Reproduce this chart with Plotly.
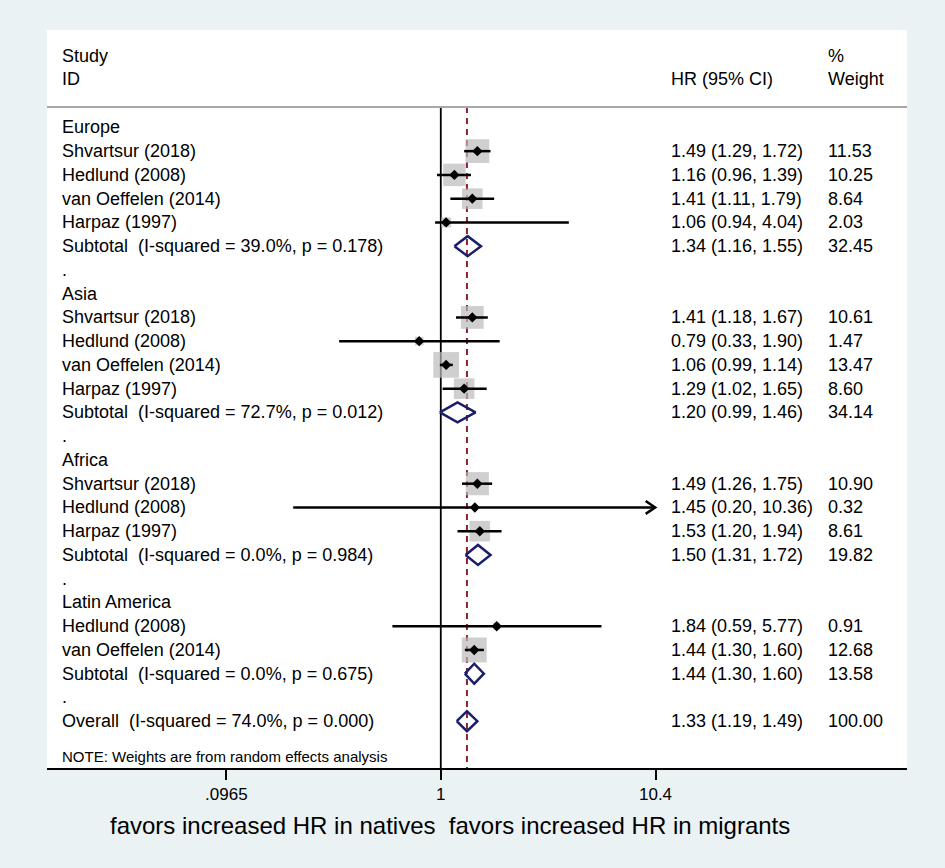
import numpy as np
import plotly.graph_objects as go

# forest plot: HR of migrants vs natives by region of origin

regions = ["Europe", "Asia", "Africa", "Latin America"]

study = [
    ["Shvartsur (2018)", "Hedlund (2008)", "van Oeffelen (2014)", "Harpaz (1997)"],
    ["Shvartsur (2018)", "Hedlund (2008)", "van Oeffelen (2014)", "Harpaz (1997)"],
    ["Shvartsur (2018)", "Hedlund (2008)", "Harpaz (1997)"],
    ["Hedlund (2008)", "van Oeffelen (2014)"],
]
hr = [[1.49, 1.16, 1.41, 1.06], [1.41, 0.79, 1.06, 1.29], [1.49, 1.45, 1.53], [1.84, 1.44]]
lo = [[1.29, 0.96, 1.11, 0.94], [1.18, 0.33, 0.99, 1.02], [1.26, 0.20, 1.20], [0.59, 1.30]]
hi = [[1.72, 1.39, 1.79, 4.04], [1.67, 1.90, 1.14, 1.65], [1.75, 10.36, 1.94], [5.77, 1.60]]
wt = [[11.53, 10.25, 8.64, 2.03], [10.61, 1.47, 13.47, 8.60], [10.90, 0.32, 8.61], [0.91, 12.68]]

sub_i2 = ["39.0%", "72.7%", "0.0%", "0.0%"]
sub_p = ["0.178", "0.012", "0.984", "0.675"]
sub_hr = [1.34, 1.20, 1.50, 1.44]
sub_lo = [1.16, 0.99, 1.31, 1.30]
sub_hi = [1.55, 1.46, 1.72, 1.60]
sub_wt = [32.45, 34.14, 19.82, 13.58]

overall = {"i2": "74.0%", "p": "0.000", "hr": 1.33, "lo": 1.19, "hi": 1.49, "wt": 100.00}

tick_vals = [0.0965, 1, 10.4]
tick_text = [".0965", "1", "10.4"]

FONT = "Liberation Sans, Arial, sans-serif"
NAVY = "#1b1f6b"
BG = "#eaf2f4"

# build rows
rows = []  # (label, kind, hr, lo, hi, wt)
for g, reg in enumerate(regions):
    rows.append((reg, "head", None, None, None, None))
    for i in range(len(study[g])):
        rows.append((study[g][i], "study", hr[g][i], lo[g][i], hi[g][i], wt[g][i]))
    lab = "Subtotal  (I-squared = %s, p = %s)" % (sub_i2[g], sub_p[g])
    rows.append((lab, "sub", sub_hr[g], sub_lo[g], sub_hi[g], sub_wt[g]))
    rows.append((".", "blank", None, None, None, None))
rows.append(("Overall  (I-squared = %s, p = %s)" % (overall["i2"], overall["p"]),
             "sub", overall["hr"], overall["lo"], overall["hi"], overall["wt"]))

fig = go.Figure()

st = [(r, row) for r, row in enumerate(rows) if row[1] == "study"]
sb = [(r, row) for r, row in enumerate(rows) if row[1] == "sub"]

# weight boxes
fig.add_trace(go.Scatter(
    x=[row[2] for r, row in st], y=[r for r, row in st], mode="markers",
    marker=dict(symbol="square", color="#bababa", size=[7.0 * np.sqrt(row[5]) for r, row in st],
                line=dict(width=0)),
    hoverinfo="skip", showlegend=False))

# CI lines
cx, cy = [], []
for r, row in st:
    cx += [row[3], row[4], None]
    cy += [r, r, None]
fig.add_trace(go.Scatter(x=cx, y=cy, mode="lines", line=dict(color="black", width=2.5),
                         hoverinfo="skip", showlegend=False))

# arrow for CI reaching the axis edge
for r, row in st:
    if row[4] >= 10:
        f = 10 ** -0.045
        fig.add_trace(go.Scatter(x=[row[4] * f, row[4], row[4] * f], y=[r - 0.27, r, r + 0.27],
                                 mode="lines", line=dict(color="black", width=2.5),
                                 hoverinfo="skip", showlegend=False))

# point estimates
fig.add_trace(go.Scatter(
    x=[row[2] for r, row in st], y=[r for r, row in st], mode="markers",
    marker=dict(symbol="diamond", color="black", size=8),
    hoverinfo="skip", showlegend=False))

# pooled diamonds
dx, dy = [], []
for r, row in sb:
    dx += [row[3], row[2], row[4], row[2], row[3], None]
    dy += [r, r - 0.42, r, r + 0.42, r, None]
fig.add_trace(go.Scatter(x=dx, y=dy, mode="lines", line=dict(color=NAVY, width=2.5),
                         hoverinfo="skip", showlegend=False))

y_head = -0.86
y_bot = 26.97
y_top = -4.1

# null line and overall line
fig.add_shape(type="line", x0=1, x1=1, y0=y_head, y1=y_bot, xref="x", yref="y",
              line=dict(color="black", width=1.8), layer="below")
fig.add_shape(type="line", x0=overall["hr"], x1=overall["hr"], y0=y_head, y1=y_bot,
              xref="x", yref="y", line=dict(color="#8b2430", width=2, dash="6px,5px"),
              layer="below")
# header separator
fig.add_shape(type="line", x0=0, x1=1, y0=y_head, y1=y_head, xref="paper", yref="y",
              line=dict(color="#a8a8a8", width=2))

# text columns
xs, xh, xw = 0.0151, 0.7233, 0.9058
anns = []


def txt(x, y, s, size=18):
    anns.append(dict(x=x, y=y, xref="paper", yref="y", text=s, showarrow=False,
                     xanchor="left", yanchor="middle", font=dict(family=FONT, size=size, color="black")))


txt(xs, -3.0, "Study")
txt(xs, -2.03, "ID")
txt(xh, -2.03, "HR (95% CI)")
txt(xw, -3.0, "%")
txt(xw, -2.03, "Weight")

for r, row in enumerate(rows):
    txt(xs, r, row[0])
    if row[2] is not None:
        txt(xh, r, "%.2f (%.2f, %.2f)" % (row[2], row[3], row[4]))
        txt(xw, r, "%.2f" % row[5])

txt(xs, 26.5, "NOTE: Weights are from random effects analysis", size=15)

anns.append(dict(x=0.4686, y=-0.078, xref="paper", yref="paper",
                 text="favors increased HR in natives  favors increased HR in migrants",
                 showarrow=False, xanchor="center", yanchor="middle",
                 font=dict(family=FONT, size=24, color="black")))

fig.update_layout(
    width=945, height=868,
    margin=dict(l=47, r=38, t=30, b=100),
    paper_bgcolor=BG, plot_bgcolor="white",
    annotations=anns,
    font=dict(family=FONT, color="black"),
    xaxis=dict(type="log", range=[-1.865, 2.208], tickvals=tick_vals, ticktext=tick_text,
               showgrid=False, zeroline=False, showline=True, linecolor="black", linewidth=2,
               ticks="outside", ticklen=10, tickwidth=1.5, tickcolor="black",
               tickfont=dict(family=FONT, size=17, color="black")),
    yaxis=dict(range=[y_bot, y_top], showgrid=False, zeroline=False, showticklabels=False,
               showline=False, ticks=""),
)

fig.write_html("out.html", config={"displayModeBar": False},
               post_script="document.body.style.margin='0';document.body.style.background='%s';" % BG)
